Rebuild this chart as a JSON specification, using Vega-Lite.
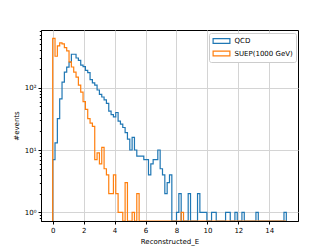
{
  "$schema": "https://vega.github.io/schema/vega-lite/v6.json",
  "width": 257,
  "height": 191,
  "autosize": "none",
  "padding": {"left": 41, "top": 30, "right": 34, "bottom": 28},
  "background": "white",
  "config": {
    "font": "DejaVu Sans",
    "view": {"stroke": "black", "strokeWidth": 1},
    "axis": {
      "domainColor": "black", "tickColor": "black", "labelColor": "black", "titleColor": "black",
      "labelFontSize": 7, "titleFontSize": 7, "titleFontWeight": "normal",
      "labelFont": "DejaVu Sans", "titleFont": "DejaVu Sans",
      "gridColor": "#d4d4d4", "gridWidth": 1, "zindex": 1, "labelOverlap": false
    }
  },
  "data": {"values": [
    {"i":0,"x":0,"QCD":0,"SUEP":0},
    {"i":1,"x":0,"QCD":7,"SUEP":620},
    {"i":2,"x":0.151,"QCD":13,"SUEP":320},
    {"i":3,"x":0.302,"QCD":32,"SUEP":470},
    {"i":4,"x":0.453,"QCD":66,"SUEP":525},
    {"i":5,"x":0.604,"QCD":123,"SUEP":505},
    {"i":6,"x":0.755,"QCD":178,"SUEP":440},
    {"i":7,"x":0.906,"QCD":214,"SUEP":390},
    {"i":8,"x":1.057,"QCD":257,"SUEP":260},
    {"i":9,"x":1.208,"QCD":345,"SUEP":215},
    {"i":10,"x":1.359,"QCD":345,"SUEP":178},
    {"i":11,"x":1.51,"QCD":300,"SUEP":148},
    {"i":12,"x":1.661,"QCD":275,"SUEP":110},
    {"i":13,"x":1.812,"QCD":230,"SUEP":85},
    {"i":14,"x":1.963,"QCD":218,"SUEP":60},
    {"i":15,"x":2.114,"QCD":190,"SUEP":45},
    {"i":16,"x":2.265,"QCD":175,"SUEP":32},
    {"i":17,"x":2.416,"QCD":135,"SUEP":27},
    {"i":18,"x":2.567,"QCD":120,"SUEP":24},
    {"i":19,"x":2.718,"QCD":110,"SUEP":7},
    {"i":20,"x":2.869,"QCD":92,"SUEP":9},
    {"i":21,"x":3.02,"QCD":78,"SUEP":6},
    {"i":22,"x":3.171,"QCD":71,"SUEP":11},
    {"i":23,"x":3.322,"QCD":64,"SUEP":5},
    {"i":24,"x":3.473,"QCD":56,"SUEP":4},
    {"i":25,"x":3.624,"QCD":42,"SUEP":2},
    {"i":26,"x":3.775,"QCD":37,"SUEP":2},
    {"i":27,"x":3.926,"QCD":34,"SUEP":4},
    {"i":28,"x":4.077,"QCD":40,"SUEP":2},
    {"i":29,"x":4.228,"QCD":29,"SUEP":1},
    {"i":30,"x":4.379,"QCD":26,"SUEP":1},
    {"i":31,"x":4.53,"QCD":23,"SUEP":0},
    {"i":32,"x":4.681,"QCD":19,"SUEP":3},
    {"i":33,"x":4.832,"QCD":15,"SUEP":0},
    {"i":34,"x":4.983,"QCD":10,"SUEP":0},
    {"i":35,"x":5.134,"QCD":16,"SUEP":1},
    {"i":36,"x":5.285,"QCD":10,"SUEP":0},
    {"i":37,"x":5.436,"QCD":8,"SUEP":2},
    {"i":38,"x":5.587,"QCD":8,"SUEP":0},
    {"i":39,"x":5.738,"QCD":8,"SUEP":0},
    {"i":40,"x":5.889,"QCD":7,"SUEP":0},
    {"i":41,"x":6.04,"QCD":7,"SUEP":0},
    {"i":42,"x":6.191,"QCD":4,"SUEP":0},
    {"i":43,"x":6.342,"QCD":6,"SUEP":0},
    {"i":44,"x":6.493,"QCD":7,"SUEP":0},
    {"i":45,"x":6.644,"QCD":7,"SUEP":0},
    {"i":46,"x":6.795,"QCD":10,"SUEP":0},
    {"i":47,"x":6.946,"QCD":5,"SUEP":0},
    {"i":48,"x":7.097,"QCD":4,"SUEP":0},
    {"i":49,"x":7.248,"QCD":2,"SUEP":0},
    {"i":50,"x":7.399,"QCD":3,"SUEP":0},
    {"i":51,"x":7.55,"QCD":4,"SUEP":0},
    {"i":52,"x":7.701,"QCD":0,"SUEP":0},
    {"i":53,"x":7.852,"QCD":0,"SUEP":0},
    {"i":54,"x":8.003,"QCD":1,"SUEP":0},
    {"i":55,"x":8.154,"QCD":2,"SUEP":0},
    {"i":56,"x":8.305,"QCD":0,"SUEP":1},
    {"i":57,"x":8.456,"QCD":0,"SUEP":0},
    {"i":58,"x":8.607,"QCD":0,"SUEP":0},
    {"i":59,"x":8.758,"QCD":2,"SUEP":0},
    {"i":60,"x":8.909,"QCD":0,"SUEP":0},
    {"i":61,"x":9.06,"QCD":0,"SUEP":0},
    {"i":62,"x":9.211,"QCD":0,"SUEP":0},
    {"i":63,"x":9.362,"QCD":2,"SUEP":0},
    {"i":64,"x":9.513,"QCD":1,"SUEP":0},
    {"i":65,"x":9.664,"QCD":1,"SUEP":0},
    {"i":66,"x":9.815,"QCD":1,"SUEP":0},
    {"i":67,"x":9.966,"QCD":0,"SUEP":0},
    {"i":68,"x":10.117,"QCD":0,"SUEP":0},
    {"i":69,"x":10.268,"QCD":1,"SUEP":0},
    {"i":70,"x":10.419,"QCD":1,"SUEP":0},
    {"i":71,"x":10.57,"QCD":0,"SUEP":0},
    {"i":72,"x":10.721,"QCD":0,"SUEP":0},
    {"i":73,"x":10.872,"QCD":0,"SUEP":0},
    {"i":74,"x":11.023,"QCD":0,"SUEP":0},
    {"i":75,"x":11.174,"QCD":1,"SUEP":0},
    {"i":76,"x":11.325,"QCD":1,"SUEP":0},
    {"i":77,"x":11.476,"QCD":0,"SUEP":0},
    {"i":78,"x":11.627,"QCD":0,"SUEP":0},
    {"i":79,"x":11.778,"QCD":1,"SUEP":0},
    {"i":80,"x":11.929,"QCD":0,"SUEP":0},
    {"i":81,"x":12.08,"QCD":0,"SUEP":0},
    {"i":82,"x":12.231,"QCD":1,"SUEP":0},
    {"i":83,"x":12.382,"QCD":0,"SUEP":0},
    {"i":84,"x":12.533,"QCD":0,"SUEP":0},
    {"i":85,"x":12.684,"QCD":0,"SUEP":0},
    {"i":86,"x":12.835,"QCD":0,"SUEP":0},
    {"i":87,"x":12.986,"QCD":0,"SUEP":0},
    {"i":88,"x":13.137,"QCD":1,"SUEP":0},
    {"i":89,"x":13.288,"QCD":0,"SUEP":0},
    {"i":90,"x":13.439,"QCD":0,"SUEP":0},
    {"i":91,"x":13.59,"QCD":0,"SUEP":0},
    {"i":92,"x":13.741,"QCD":0,"SUEP":0},
    {"i":93,"x":13.892,"QCD":0,"SUEP":0},
    {"i":94,"x":14.043,"QCD":0,"SUEP":0},
    {"i":95,"x":14.194,"QCD":0,"SUEP":0},
    {"i":96,"x":14.345,"QCD":0,"SUEP":0},
    {"i":97,"x":14.496,"QCD":0,"SUEP":0},
    {"i":98,"x":14.647,"QCD":0,"SUEP":0},
    {"i":99,"x":14.798,"QCD":0,"SUEP":0},
    {"i":100,"x":14.949,"QCD":1,"SUEP":0},
    {"i":101,"x":15.1,"QCD":0,"SUEP":0}
  ]},
  "transform": [{"fold": ["QCD", "SUEP"], "as": ["s", "n"]}],
  "mark": {"type": "line", "interpolate": "step-after", "strokeWidth": 1.2, "clip": true},
  "encoding": {
    "x": {
      "field": "x", "type": "quantitative",
      "scale": {"domain": [-0.755, 15.855], "nice": false, "zero": false},
      "axis": {"values": [0, 2, 4, 6, 8, 10, 12, 14], "title": "Reconstructed_E", "tickSize": 3, "labelPadding": 2, "titlePadding": 4, "labelFlush": false}
    },
    "y": {
      "field": "n", "type": "quantitative",
      "scale": {"type": "log", "domain": [0.725, 845], "nice": false, "clamp": true},
      "axis": {
        "values": [0.8, 0.9, 1, 2, 3, 4, 5, 6, 7, 8, 9, 10, 20, 30, 40, 50, 60, 70, 80, 90, 100, 200, 300, 400, 500, 600, 700, 800],
        "title": "#events",
        "labelExpr": "datum.value == 1 ? '10⁰' : datum.value == 10 ? '10¹' : datum.value == 100 ? '10²' : ''",
        "tickSize": {"condition": {"test": "datum.value == 1 || datum.value == 10 || datum.value == 100", "value": 3}, "value": 1.7},
        "gridOpacity": {"condition": {"test": "datum.value == 1 || datum.value == 10 || datum.value == 100", "value": 1}, "value": 0},
        "labelPadding": 2,
        "titlePadding": 5
      }
    },
    "color": {
      "field": "s", "type": "nominal",
      "scale": {"domain": ["QCD", "SUEP"], "range": ["#1f77b4", "#ff7f0e"]},
      "legend": {
        "orient": "none", "legendX": 168, "legendY": 3, "title": null, "direction": "vertical",
        "labelExpr": "datum.label == 'SUEP' ? 'SUEP(1000 GeV)' : datum.label",
        "symbolType": "M-2.1,-0.6H2.1V0.6H-2.1Z", "symbolSize": 64, "symbolStrokeWidth": 1.2,
        "symbolFillColor": "transparent", "symbolOffset": 4.5,
        "fillColor": "white", "strokeColor": "#cccccc", "cornerRadius": 2, "padding": 3,
        "rowPadding": 2.5, "labelFontSize": 7, "labelOffset": 8, "labelColor": "black", "labelFont": "DejaVu Sans"
      }
    },
    "order": {"field": "i", "type": "quantitative"}
  }
}
